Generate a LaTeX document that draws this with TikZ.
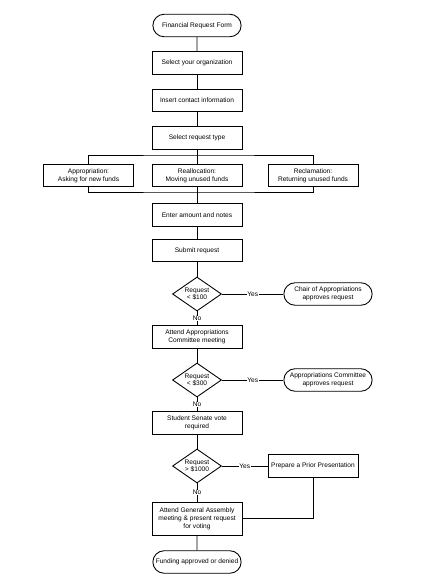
\documentclass[tikz,border=0pt]{standalone}
\usepackage{fontspec}
\setmainfont{Liberation Sans}
\usetikzlibrary{shapes, shapes.geometric, shapes.misc, positioning}

\begin{document}
\begin{tikzpicture}[x=0.04cm, y=-0.04cm, line width=1pt,
    every node/.style={font=\fontsize{7.5}{9}\selectfont},
    proc/.style={draw, rectangle, minimum width=3.6cm, minimum height=0.9cm, align=center, inner sep=1pt},
    term/.style={draw, rounded rectangle, minimum width=3.6cm, minimum height=0.9cm, align=center, inner sep=1pt},
    decide/.style={draw, diamond, aspect=1.44, inner sep=0pt, minimum width=1.96cm, minimum height=1.36cm, align=center},
    lbl/.style={fill=white, inner sep=0.5pt}]
        \useasboundingbox (0,0) rectangle (435,579);

        % Form steps
        \node[term] (start) at (197, 25.5) {Financial Request Form};
        \node[proc] (org) at (197, 63) {Select your organization};
        \node[proc] (contact) at (197, 100.5) {Insert contact information};
        \node[proc] (type) at (197, 138) {Select request type};

        % Request types
        \node[proc] (appr) at (88.5, 175.5) {Appropriation:\\Asking for new funds};
        \node[proc] (realloc) at (197, 175.5) {Reallocation:\\Moving unused funds};
        \node[proc] (reclam) at (313, 175.5) {Reclamation:\\Returning unused funds};
        \coordinate (busT) at (197, 155);
        \coordinate (busB) at (197, 192);

        \node[proc] (amount) at (197, 215) {Enter amount and notes};
        \node[proc] (submit) at (197, 250.5) {Submit request};

        % Decisions
        \node[decide] (dec1) at (197, 294) {Request\\< \$100};
        \node[term] (chair) at (328, 294) {Chair of Appropriations\\approves request};
        \node[proc] (meeting) at (197, 337) {Attend Appropriations\\Committee meeting};

        \node[decide] (dec2) at (197, 380) {Request\\< \$300};
        \node[term] (committee) at (328, 380) {Appropriations Committee\\approves request};
        \node[proc] (senate) at (197, 423) {Student Senate vote\\required};

        \node[decide] (dec3) at (197, 466) {Request\\> \$1000};
        \node[proc] (prior) at (313, 466) {Prepare a Prior Presentation};
        \node[proc, minimum height=1.32cm] (assembly) at (197, 518.5) {Attend General Assembly\\meeting \& present request\\for voting};

        % Output
        \node[term] (result) at (197, 562) {Funding approved or denied};

        % Lines
        \draw (start) -- (org);
        \draw (org) -- (contact);
        \draw (contact) -- (type);
        \draw (type) -- (realloc);
        \draw (appr.north) |- (busT) -| (reclam.north);
        \draw (appr.south) |- (busB) -| (reclam.south);
        \draw (realloc) -- (amount);
        \draw (amount) -- (submit);
        \draw (submit) -- (dec1);
        \draw (dec1) -- node[lbl] {Yes} (chair);
        \draw (dec1) -- node[lbl] {No} (meeting);
        \draw (meeting) -- (dec2);
        \draw (dec2) -- node[lbl] {Yes} (committee);
        \draw (dec2) -- node[lbl] {No} (senate);
        \draw (senate) -- (dec3);
        \draw (dec3) -- node[lbl] {Yes} (prior);
        \draw (dec3) -- node[lbl] {No} (assembly);
        \draw (prior.south) |- (assembly.east);
        \draw (assembly) -- (result);

    \end{tikzpicture}
\end{document}
